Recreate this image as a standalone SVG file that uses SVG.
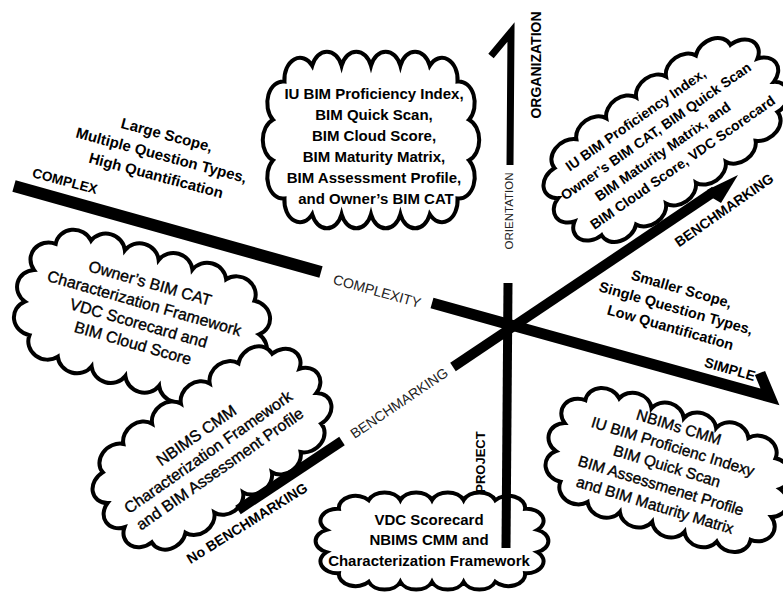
<svg xmlns="http://www.w3.org/2000/svg" width="783" height="594" viewBox="0 0 783 594">
<style>
text{font-family:'Liberation Sans',Arial,sans-serif;text-anchor:middle}
.b{font-weight:700;fill:#000}
.r{font-weight:400;fill:#000;stroke:#000;stroke-width:0.35}
.g{font-weight:400;fill:#222}
.cl{fill:#fff;stroke:#000;stroke-width:4}
.ax{fill:none;stroke:#000;stroke-linejoin:miter;stroke-miterlimit:5}
.ah{fill:#000;stroke:none}
</style>
<defs>
<path id="cloud" vector-effect="non-scaling-stroke" d="M-60,-55 A16,16 0 0 1 -30,-55 A16,16 0 0 1 0,-55 A16,16 0 0 1 30,-55 A16,16 0 0 1 60,-55 A16,16 0 0 1 88.3,-43.3 A16,16 0 0 1 100,-15 A16,16 0 0 1 100,15 A16,16 0 0 1 88.3,43.3 A16,16 0 0 1 60,55 A16,16 0 0 1 30,55 A16,16 0 0 1 0,55 A16,16 0 0 1 -30,55 A16,16 0 0 1 -60,55 A16,16 0 0 1 -88.3,43.3 A16,16 0 0 1 -100,15 A16,16 0 0 1 -100,-15 A16,16 0 0 1 -88.3,-43.3 A16,16 0 0 1 -60,-55 Z"/>
</defs>
<rect width="783" height="594" fill="#fff"/>

<g id="node-org-all">
<use href="#cloud" class="cl" transform="translate(371,140) scale(0.98,1.35)"/>
<text class="b" font-size="15"><tspan x="374" y="99">IU BIM Proficiency Index,</tspan><tspan x="374" y="120">BIM Quick Scan,</tspan><tspan x="374" y="141">BIM Cloud Score,</tspan><tspan x="374" y="162">BIM Maturity Matrix,</tspan><tspan x="374" y="183">BIM Assessment Profile,</tspan><tspan x="376" y="204">and Owner’s BIM CAT</tspan></text>
</g>

<g id="node-benchmarking">
<use href="#cloud" class="cl" transform="translate(666,140) rotate(-35) scale(1.216,0.947)"/>
<text class="b" font-size="14" transform="translate(659,141) rotate(-35)"><tspan x="-7" y="-26">IU BIM Proficiency Index,</tspan><tspan x="3" y="-5">Owner’s BIM CAT, BIM Quick Scan</tspan><tspan x="-3" y="15.5">BIM Maturity Matrix, and</tspan><tspan x="7" y="36">BIM Cloud Score, VDC Scorecard</tspan></text>
</g>

<g id="node-complex">
<use href="#cloud" class="cl" transform="translate(142,318) rotate(16) scale(1.171,1.098)"/>
<text class="r" font-size="16" transform="translate(141.5,313) rotate(16)"><tspan x="0" y="-25.6">Owner’s BIM CAT</tspan><tspan x="0" y="-4.8">Characterization Framework</tspan><tspan x="0" y="16">VDC Scorecard and</tspan><tspan x="0" y="36.8">BIM Cloud Score</tspan></text>
</g>

<g id="node-no-benchmarking">
<use href="#cloud" class="cl" transform="translate(212,448) rotate(-35) scale(1.171,0.985)"/>
<text class="r" font-size="16" transform="translate(208,452) rotate(-35)"><tspan x="0" y="-14.9">NBIMS CMM</tspan><tspan x="0" y="5.6">Characterization Framework</tspan><tspan x="0" y="26.1">and BIM Assessment Profile</tspan></text>
</g>

<g id="node-simple">
<use href="#cloud" class="cl" transform="translate(668,470) rotate(17) scale(1.126,0.985)"/>
<text class="r" font-size="15.5" transform="translate(667,466) rotate(17)"><tspan x="0" y="-35.4">NBIMs CMM</tspan><tspan x="0" y="-15">IU BIM Proficienc Indexy</tspan><tspan x="0" y="5.4">BIM Quick Scan</tspan><tspan x="0" y="25.8">BIM Assessmenet Profile</tspan><tspan x="0" y="46.2">and BIM Maturity Matrix</tspan></text>
</g>

<g id="node-project">
<use href="#cloud" class="cl" transform="translate(432,541) scale(1.054,0.742)"/>
</g>

<g id="connectors">
<polyline class="ax" stroke-width="7" points="491,56 511,32 510,165"/>
<line class="ax" x1="508" y1="283" x2="506" y2="548" stroke-width="9"/>
<line class="ax" x1="14" y1="186" x2="321" y2="272" stroke-width="12"/>
<polyline class="ax" stroke-width="11" points="432,303 770,397 760,373"/>
<line class="ax" x1="238" y1="510" x2="342" y2="441" stroke-width="10"/>
<line class="ax" x1="453" y1="367" x2="715" y2="191" stroke-width="10"/>
<polygon class="ah" points="738,175 707,190 712.6,198 721,203"/>
</g>

<g id="node-project-text">
<text class="b" font-size="15"><tspan x="429" y="525">VDC Scorecard</tspan><tspan x="429" y="545">NBIMS CMM and</tspan><tspan x="429" y="566">Characterization Framework</tspan></text>
</g>

<g id="labels">
<text class="b" font-size="15" transform="translate(161.5,155) rotate(15)"><tspan x="0" y="-15.7">Large Scope,</tspan><tspan x="0" y="5.3">Multiple Question Types,</tspan><tspan x="0" y="26.3">High Quantification</tspan></text>
<text class="b" font-size="13.5" transform="translate(65,181) rotate(15)" y="4.7">COMPLEX</text>
<text class="g" font-size="14" transform="translate(377,291) rotate(15.5)" y="5">COMPLEXITY</text>
<text class="g" font-size="14" transform="translate(399,403) rotate(-34)" y="5">BENCHMARKING</text>
<text class="g" font-size="11.5" transform="translate(509,211) rotate(-90)" y="4">ORIENTATION</text>
<text class="b" font-size="14" transform="translate(536,65) rotate(-90)" y="5">ORGANIZATION</text>
<text class="b" font-size="13" transform="translate(480,462) rotate(-90)" y="4.6">PROJECT</text>
<text class="b" font-size="14" transform="translate(724,210) rotate(-35)" y="5">BENCHMARKING</text>
<text class="b" font-size="14.5" transform="translate(676,308) rotate(16)"><tspan x="0" y="-14.9">Smaller Scope,</tspan><tspan x="0" y="5.1">Single Question Types,</tspan><tspan x="0" y="25.1">Low Quantification</tspan></text>
<text class="b" font-size="14" transform="translate(730,369) rotate(16)" y="5">SIMPLE</text>
<text class="b" font-size="14" transform="translate(247,523) rotate(-32)" y="5">No BENCHMARKING</text>
</g>
</svg>
